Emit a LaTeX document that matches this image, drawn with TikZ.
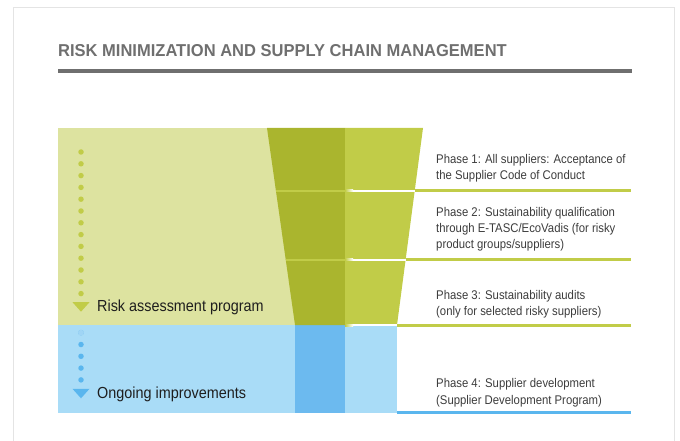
\documentclass[tikz,border=0pt]{standalone}
\usepackage{fontspec}
\setmainfont[FakeStretch=0.9]{Liberation Sans}
\newfontfamily\titlefont[FakeStretch=0.96]{Liberation Sans}
\usetikzlibrary{arrows.meta}
\definecolor{framegray}{HTML}{E4E4E4}
\definecolor{titlegray}{HTML}{6F6F6F}
\definecolor{panelgreen}{HTML}{DDE3A0}
\definecolor{darkgreen}{HTML}{AAB52E}
\definecolor{colgreen}{HTML}{C1CC48}
\definecolor{panelblue}{HTML}{A9DCF7}
\definecolor{colblue}{HTML}{6CBAEF}
\definecolor{lineblue}{HTML}{5AB6EE}
\definecolor{fadeblue}{HTML}{A0D5F5}
\definecolor{labelgray}{HTML}{1E1E1E}
\definecolor{phasegray}{HTML}{3C3C3C}
\begin{document}
\begin{tikzpicture}[x=1pt, y=-1pt,
	sidetext/.style={anchor=base west, inner sep=0, text=labelgray, font=\fontsize{16}{19}\selectfont},
	phase/.style={anchor=base west, inner sep=0, align=left, text=phasegray, font=\fontsize{12.6}{16.3}\selectfont},
	phaseline/.style={line width=3pt},
	dotarrow/.style={line width=5.5pt, line cap=round, dash pattern=on 0pt off 11.8pt, -{Triangle[width=17pt, length=9.5pt, line width=0pt]}}
	]
	\useasboundingbox (0,0) rectangle (680,441);
	\draw[framegray, line width=1pt] (13.5,7.5) rectangle (674.5,470);
	
	\node[anchor=base west, inner sep=0, text=titlegray, font=\titlefont\bfseries\fontsize{17.2}{20}\selectfont] (title) at (58,56.7) {RISK MINIMIZATION AND SUPPLY CHAIN MANAGEMENT};
	\fill[titlegray] (58,69.3) rectangle (632,72.8);
	
	\fill[panelgreen] (58,128) rectangle (300,325);
	\fill[panelblue] (58,325) rectangle (397,413);
	\fill[colblue] (295,325) rectangle (345,413);
	\fill[darkgreen] (267,128) -- (345,128) -- (345,325) -- (295,325) -- cycle;
	\fill[colgreen] (345,128) -- (423,128) -- (397,325) -- (345,325) -- cycle;
	
	\draw[colgreen, line width=2pt] (275.8,190.6) -- (345,190.6);
	\draw[colgreen, line width=2pt] (285.7,259.6) -- (345,259.6);
	\foreach \y/\xr in {190.6/414.8, 259.6/405.6, 325/397} {
		\shade[left color=colgreen, right color=white] (345,\y-1) rectangle (353,\y+1);
		\fill[white] (353,\y-1) rectangle (\xr,\y+1);
		\draw[phaseline, colgreen] (\xr,\y) -- (631,\y);
	}
	\draw[phaseline, lineblue] (397,412) -- (631,412);
	
	\node[sidetext] (risk) at (97,311.7) {Risk assessment program};
	\node[sidetext] (ongoing) at (97,398.3) {Ongoing improvements};
	\coordinate (gstart) at (81,152);
	\coordinate (bstart) at (81,332.7);
	\draw[dotarrow, colgreen] (gstart) -- (gstart |- risk.base);
	\draw[dotarrow, lineblue] (bstart) -- (bstart |- ongoing.base);
	\fill[fadeblue] (bstart) circle (2.9pt);
	
	\node[phase] (ph1) at (436,179.8) {Phase 1: All suppliers: Acceptance of\\the Supplier Code of Conduct};
	\node[phase] (ph2) at (436,248.6) {Phase 2: Sustainability qualification\\through E-TASC/EcoVadis (for risky\\product groups/suppliers)};
	\node[phase] (ph3) at (436,315.3) {Phase 3: Sustainability audits\\(only for selected risky suppliers)};
	\node[phase] (ph4) at (436,404.1) {Phase 4: Supplier development\\(Supplier Development Program)};
\end{tikzpicture}
\end{document}
